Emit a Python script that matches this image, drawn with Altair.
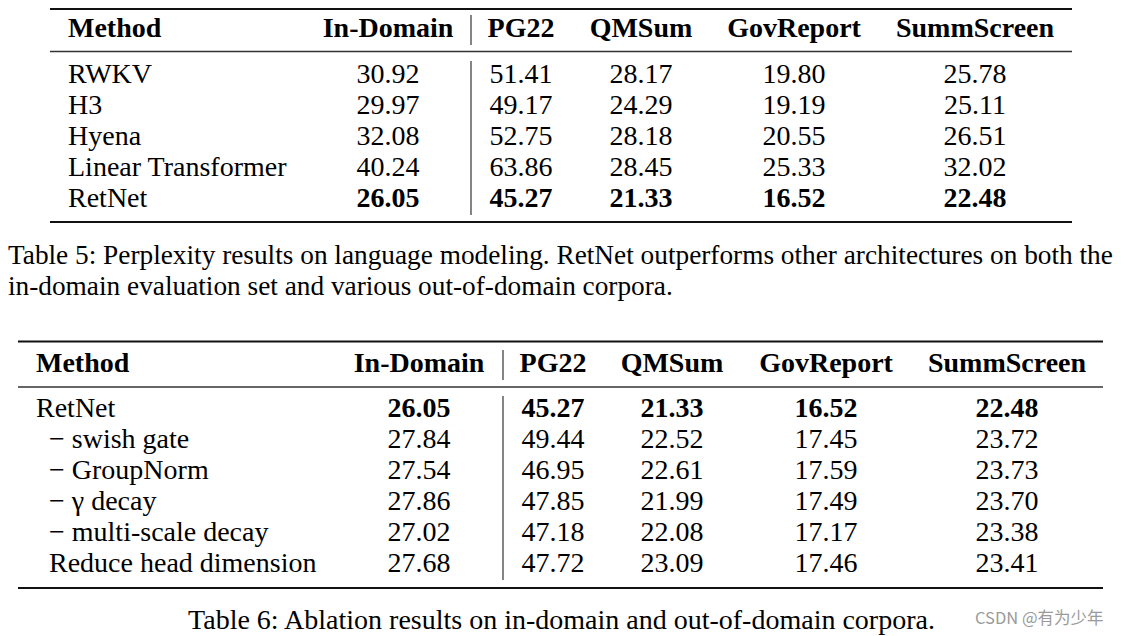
import altair as alt
import pandas as pd

# ---------------- table content ----------------
columns = ["In-Domain", "PG22", "QMSum", "GovReport", "SummScreen"]

t5_methods = ["RWKV", "H3", "Hyena", "Linear Transformer", "RetNet"]
t5_in_domain = [30.92, 29.97, 32.08, 40.24, 26.05]
t5_pg22 = [51.41, 49.17, 52.75, 63.86, 45.27]
t5_qmsum = [28.17, 24.29, 28.18, 28.45, 21.33]
t5_govreport = [19.80, 19.19, 20.55, 25.33, 16.52]
t5_summscreen = [25.78, 25.11, 26.51, 32.02, 22.48]

t6_methods = ["RetNet", "− swish gate", "− GroupNorm", "− γ decay",
              "− multi-scale decay", "Reduce head dimension"]
t6_indented = [False, True, True, True, True, True]
t6_in_domain = [26.05, 27.84, 27.54, 27.86, 27.02, 27.68]
t6_pg22 = [45.27, 49.44, 46.95, 47.85, 47.18, 47.72]
t6_qmsum = [21.33, 22.52, 22.61, 21.99, 22.08, 23.09]
t6_govreport = [16.52, 17.45, 17.59, 17.49, 17.17, 17.46]
t6_summscreen = [22.48, 23.72, 23.73, 23.70, 23.38, 23.41]

caption5 = [
    "Table 5: Perplexity results on language modeling. RetNet outperforms other architectures on both the",
    "in-domain evaluation set and various out-of-domain corpora.",
]
caption6 = "Table 6: Ablation results on in-domain and out-of-domain corpora."
watermark = "CSDN @有为少年"

# ---------------- layout (scale anchors, page pixels) ----------------
MARGIN = 8
x_anchor = {
    "t5_left": 50, "t5_right": 1072, "t5_method": 68, "t5_indent": 68, "t5_sep": 471,
    "t5_In-Domain": 388, "t5_PG22": 521, "t5_QMSum": 641, "t5_GovReport": 794, "t5_SummScreen": 975,
    "t6_left": 18, "t6_right": 1103, "t6_method": 36, "t6_indent": 49, "t6_sep": 503,
    "t6_In-Domain": 419, "t6_PG22": 553, "t6_QMSum": 672, "t6_GovReport": 826, "t6_SummScreen": 1007,
    "cap5": 8, "cap6": 561.5, "wm": 975,
}
y_anchor = {
    "t5_top": 9, "t5_head": 37, "t5_mid": 51.5, "t5_bot": 222,
    "t5_sep_h0": 15, "t5_sep_h1": 45, "t5_sep_b0": 61, "t5_sep_b1": 215,
    "cap5_0": 264, "cap5_1": 295,
    "t6_top": 341.5, "t6_head": 372, "t6_mid": 387, "t6_bot": 588,
    "t6_sep_h0": 350, "t6_sep_h1": 380, "t6_sep_b0": 396, "t6_sep_b1": 580,
    "cap6": 629, "wm": 624,
}
for i in range(5):
    y_anchor[f"t5_r{i}"] = 83 + 31 * i
for i in range(6):
    y_anchor[f"t6_r{i}"] = 416.5 + 31 * i

X_KEYS = list(x_anchor)
Y_KEYS = list(y_anchor)


def xi(name):
    return X_KEYS.index(name)


def yi(name):
    return Y_KEYS.index(name)


xscale = alt.Scale(domain=list(range(len(X_KEYS))),
                   range=[x_anchor[k] - MARGIN for k in X_KEYS], nice=False, zero=False)
yscale = alt.Scale(domain=list(range(len(Y_KEYS))),
                   range=[y_anchor[k] - MARGIN for k in Y_KEYS], nice=False, zero=False)

X = alt.X("xk:Q", scale=xscale, axis=None)
Y = alt.Y("yk:Q", scale=yscale, axis=None)

# ---------------- build data tables ----------------
tables = {
    "t5": (t5_methods, [False] * len(t5_methods),
           [t5_in_domain, t5_pg22, t5_qmsum, t5_govreport, t5_summscreen]),
    "t6": (t6_methods, t6_indented,
           [t6_in_domain, t6_pg22, t6_qmsum, t6_govreport, t6_summscreen]),
}

cells, labels, heads = [], [], []
hrules_thick, hrules_thin, vrules = [], [], []
for t, (methods, indented, series) in tables.items():
    for c, vals in zip(columns, series):
        best = min(vals)
        for i, v in enumerate(vals):
            cells.append(dict(xk=xi(f"{t}_{c}"), yk=yi(f"{t}_r{i}"), value=v, best=bool(v == best)))
        heads.append(dict(xk=xi(f"{t}_{c}"), yk=yi(f"{t}_head"), label=c))
    for i, (m, ind) in enumerate(zip(methods, indented)):
        labels.append(dict(xk=xi(f"{t}_indent" if ind else f"{t}_method"), yk=yi(f"{t}_r{i}"), label=m))
    hrules_thick.append(dict(xk=xi(f"{t}_left"), xk2=xi(f"{t}_right"), yk=yi(f"{t}_top")))
    hrules_thick.append(dict(xk=xi(f"{t}_left"), xk2=xi(f"{t}_right"), yk=yi(f"{t}_bot")))
    hrules_thin.append(dict(xk=xi(f"{t}_left"), xk2=xi(f"{t}_right"), yk=yi(f"{t}_mid")))
    vrules.append(dict(xk=xi(f"{t}_sep"), yk=yi(f"{t}_sep_h0"), yk2=yi(f"{t}_sep_h1")))
    vrules.append(dict(xk=xi(f"{t}_sep"), yk=yi(f"{t}_sep_b0"), yk2=yi(f"{t}_sep_b1")))

method_heads = pd.DataFrame([dict(xk=xi(f"{t}_method"), yk=yi(f"{t}_head"), label="Method") for t in tables])
cap5_df = pd.DataFrame([dict(xk=xi("cap5"), yk=yi(f"cap5_{i}"), label=s) for i, s in enumerate(caption5)])
cap6_df = pd.DataFrame([dict(xk=xi("cap6"), yk=yi("cap6"), label=caption6)])
wm_df = pd.DataFrame([dict(xk=xi("wm"), yk=yi("wm"), label=watermark)])

cells_df = pd.DataFrame(cells)
labels_df = pd.DataFrame(labels)
heads_df = pd.DataFrame(heads)

SERIF = "Liberation Serif"
FS = 28
txt = dict(baseline="alphabetic", font=SERIF, fontSize=FS, color="#000000")

num_regular = alt.Chart(cells_df).transform_filter("!datum.best").mark_text(
    align="center", **txt).encode(x=X, y=Y, text=alt.Text("value:Q", format=".2f"))
num_bold = alt.Chart(cells_df).transform_filter("datum.best").mark_text(
    align="center", fontWeight="bold", **txt).encode(x=X, y=Y, text=alt.Text("value:Q", format=".2f"))
label_layer = alt.Chart(labels_df).mark_text(align="left", **txt).encode(x=X, y=Y, text="label:N")
head_left = alt.Chart(method_heads).mark_text(align="left", fontWeight="bold", **txt).encode(
    x=X, y=Y, text="label:N")
head_center = alt.Chart(heads_df).mark_text(align="center", fontWeight="bold", **txt).encode(
    x=X, y=Y, text="label:N")

cap5_layer = alt.Chart(cap5_df).mark_text(
    align="left", baseline="alphabetic", font=SERIF, fontSize=27.3, color="#000000").encode(
    x=X, y=Y, text="label:N")
cap6_layer = alt.Chart(cap6_df).mark_text(
    align="center", baseline="alphabetic", font=SERIF, fontSize=FS, color="#000000").encode(
    x=X, y=Y, text="label:N")
wm_layer = alt.Chart(wm_df).mark_text(
    align="left", baseline="alphabetic", font="Noto Sans CJK SC", fontSize=16.5, color="#9a9a9a").encode(
    x=X, y=Y, text="label:N")

thick = alt.Chart(pd.DataFrame(hrules_thick)).mark_rule(color="#111111", strokeWidth=2.2).encode(
    x=X, x2="xk2:Q", y=Y)
thin = alt.Chart(pd.DataFrame(hrules_thin)).mark_rule(color="#333333", strokeWidth=1.4).encode(
    x=X, x2="xk2:Q", y=Y)
seps = alt.Chart(pd.DataFrame(vrules)).mark_rule(color="#333333", strokeWidth=1.2).encode(
    x=X, y=Y, y2="yk2:Q")

chart = alt.layer(
    thick, thin, seps, head_left, head_center, label_layer, num_regular, num_bold,
    cap5_layer, cap6_layer, wm_layer,
).properties(
    width=1108, height=628, padding=0, autosize=alt.AutoSizeParams(type="none"),
    background="white",
).configure_view(stroke=None)

chart.save("out.html", embed_options={"renderer": "svg", "actions": False})
